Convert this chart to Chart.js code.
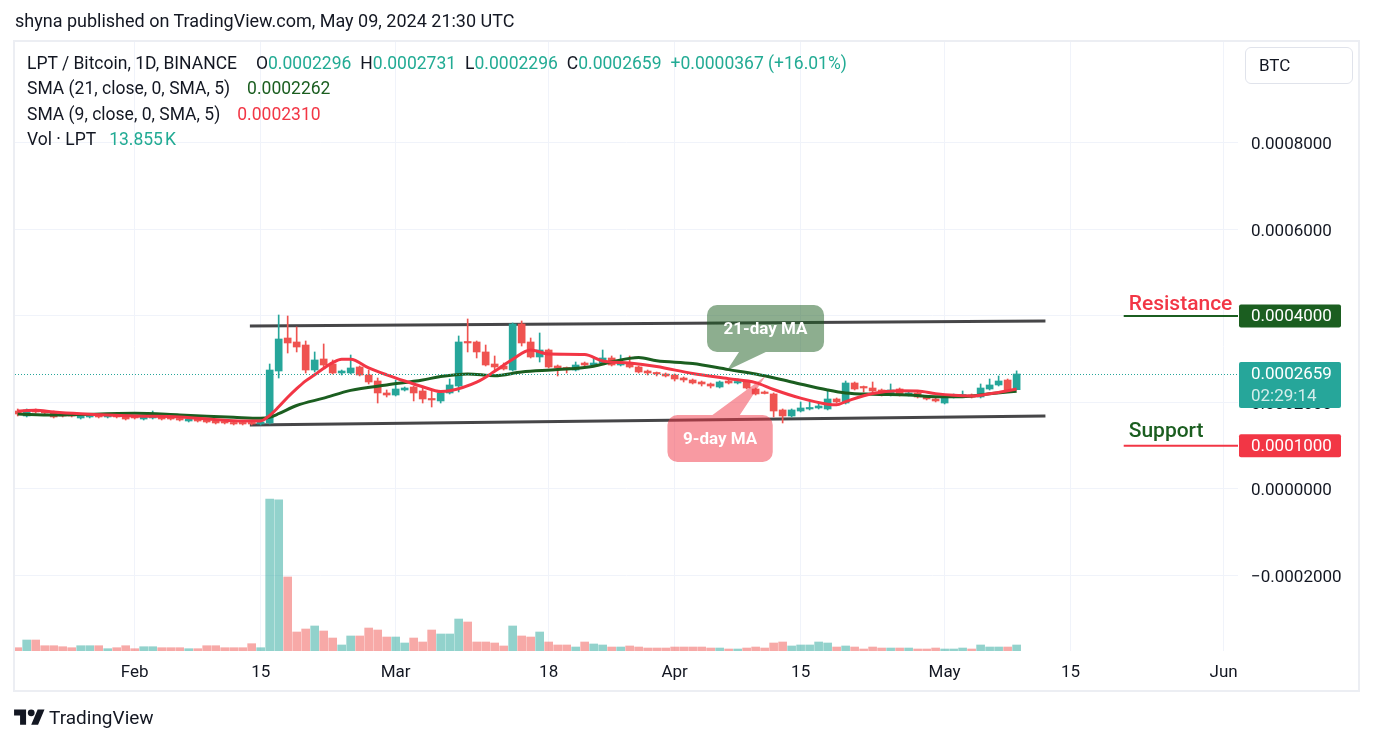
<!DOCTYPE html>
<html>
<head>
<meta charset="utf-8">
<script src="https://cdn.jsdelivr.net/npm/chart.js@4.4.1/dist/chart.umd.min.js"></script>
<style>
  body { margin: 0; background: #fff; font-family: Roboto, sans-serif; color: #131722; }
  #wrap { position: relative; width: 1374px; height: 744px; overflow: hidden; }
  #frame { position: absolute; left: 13px; top: 40px; width: 1343px; height: 648px; border: 2px solid #eceef3; }
  canvas { position: absolute; left: 0; top: 0; }
  .t { position: absolute; white-space: nowrap; line-height: 1; }
  .row span + span { margin-left: 9px; }
  .row span.first { margin-right: 10px; }
  .up { color: #22ab94; }
  .ma21 { color: #1b5e20; }
  .ma9 { color: #f23645; }
  .val { font-style: normal; }
  #btc { position: absolute; left: 1245px; top: 47px; width: 108px; height: 37px; box-sizing: border-box;
         border: 1px solid #e0e3eb; border-radius: 6px; font-size: 17px; line-height: 35px; padding-left: 13px; }
</style>
</head>
<body>
<div id="wrap">
  <div id="frame"></div>
  <canvas id="c" width="1374" height="744"></canvas>
  <div class="t" style="left:15px;top:12px;font-size:18px;">shyna published on TradingView.com, May 09, 2024 21:30 UTC</div>
  <div class="t row" style="left:27px;top:55px;font-size:17.5px;">
    <span class="first">LPT / Bitcoin, 1D, BINANCE</span><span>O<i class="up val">0.0002296</i></span><span>H<i class="up val">0.0002731</i></span><span>L<i class="up val">0.0002296</i></span><span>C<i class="up val">0.0002659</i></span><span class="up">+0.0000367 (+16.01%)</span>
  </div>
  <div class="t row" style="left:27px;top:80px;font-size:17.5px;"><span class="first" style="margin-right:8px">SMA (21, close, 0, SMA, 5)</span><span class="ma21">0.0002262</span></div>
  <div class="t row" style="left:27px;top:106px;font-size:17.5px;"><span class="first" style="margin-right:8px">SMA (9, close, 0, SMA, 5)</span><span class="ma9">0.0002310</span></div>
  <div class="t row" style="left:27px;top:131px;font-size:17.5px;"><span class="first" style="margin-right:4px">Vol · LPT</span><span class="up">13.855&#8239;K</span></div>
  <div id="btc">BTC</div>
  <svg style="position:absolute;left:14px;top:706px" width="31" height="24" viewBox="0 0 36 28">
    <path fill="#131722" d="M14 22H7V11H0V4h14v18zM28 22h-8l7.5-18h8L28 22z"/>
    <circle fill="#131722" cx="20" cy="8" r="4"/>
  </svg>
  <div class="t" style="left:49px;top:708px;font-size:19px;">TradingView</div>
</div>
<script>
// x = candle index, 0 = Jan 19 2024 ... 111 = May 9 2024
const tickDays = [13, 27, 42, 59, 73, 87, 103, 117, 134];
const tickLabels = ['Feb', '15', 'Mar', '18', 'Apr', '15', 'May', '15', 'Jun'];
const priceTicks = [-0.0002, 0, 0.0002, 0.0004, 0.0006, 0.0008];

const opens = [
  0.0001803, 0.0001688, 0.0001827, 0.0001780, 0.0001780, 0.0001711, 0.0001711, 0.0001642, 0.0001665, 0.0001688,
  0.0001665, 0.0001688, 0.0001688, 0.0001665, 0.0001618, 0.0001642, 0.0001665, 0.0001642, 0.0001618, 0.0001572,
  0.0001618, 0.0001595, 0.0001572, 0.0001549, 0.0001526, 0.0001526, 0.0001526, 0.0001503, 0.0001526, 0.0002728,
  0.0003491, 0.0003399, 0.0003329, 0.0002751, 0.0003006, 0.0002890, 0.0002682, 0.0002682, 0.0002821, 0.0002636,
  0.0002497, 0.0002220, 0.0002173, 0.0002289, 0.0002358, 0.0002266, 0.0002081, 0.0002035, 0.0002220, 0.0002381,
  0.0003399, 0.0003399, 0.0003168, 0.0002890, 0.0002844, 0.0002751, 0.0003815, 0.0003399, 0.0003052, 0.0003214,
  0.0002844, 0.0002798, 0.0002751, 0.0002913, 0.0002867, 0.0002913, 0.0003029, 0.0002867, 0.0002913, 0.0002821,
  0.0002728, 0.0002682, 0.0002659, 0.0002636, 0.0002566, 0.0002520, 0.0002474, 0.0002428, 0.0002358, 0.0002497,
  0.0002451, 0.0002474, 0.0002312, 0.0002220, 0.0002197, 0.0001827, 0.0001688, 0.0001803, 0.0001850, 0.0001873,
  0.0001850, 0.0002081, 0.0001988, 0.0002451, 0.0002358, 0.0002335, 0.0002289, 0.0002173, 0.0002312, 0.0002173,
  0.0002220, 0.0002127, 0.0002081, 0.0001988, 0.0002127, 0.0002150, 0.0002173, 0.0002127, 0.0002312, 0.0002405,
  0.0002520, 0.0002296
];
const highs = [
  0.0001850, 0.0001850, 0.0001850, 0.0001803, 0.0001803, 0.0001734, 0.0001734, 0.0001711, 0.0001711, 0.0001711,
  0.0001711, 0.0001711, 0.0001711, 0.0001688, 0.0001688, 0.0001803, 0.0001688, 0.0001665, 0.0001642, 0.0001642,
  0.0001642, 0.0001618, 0.0001595, 0.0001572, 0.0001549, 0.0001549, 0.0001549, 0.0001572, 0.0002890, 0.0004023,
  0.0004000, 0.0003746, 0.0003422, 0.0003168, 0.0003353, 0.0002983, 0.0002751, 0.0003098, 0.0002844, 0.0002751,
  0.0002566, 0.0002289, 0.0002520, 0.0002358, 0.0002381, 0.0002335, 0.0002266, 0.0002243, 0.0002543, 0.0003538,
  0.0003931, 0.0003422, 0.0003329, 0.0003075, 0.0002913, 0.0003838, 0.0003884, 0.0003491, 0.0003607, 0.0003237,
  0.0002867, 0.0002821, 0.0002936, 0.0002936, 0.0003052, 0.0003214, 0.0003075, 0.0003098, 0.0003075, 0.0002844,
  0.0002751, 0.0002705, 0.0002682, 0.0002659, 0.0002590, 0.0002543, 0.0002497, 0.0002451, 0.0002497, 0.0002520,
  0.0002543, 0.0002497, 0.0002335, 0.0002266, 0.0002220, 0.0001850, 0.0001850, 0.0002012, 0.0002012, 0.0001988,
  0.0002266, 0.0002104, 0.0002497, 0.0002474, 0.0002381, 0.0002474, 0.0002312, 0.0002428, 0.0002335, 0.0002243,
  0.0002243, 0.0002150, 0.0002104, 0.0002150, 0.0002197, 0.0002266, 0.0002197, 0.0002428, 0.0002543, 0.0002613,
  0.0002543, 0.0002731
];
const lows = [
  0.0001688, 0.0001665, 0.0001757, 0.0001734, 0.0001642, 0.0001665, 0.0001665, 0.0001618, 0.0001642, 0.0001642,
  0.0001642, 0.0001642, 0.0001595, 0.0001618, 0.0001595, 0.0001618, 0.0001595, 0.0001595, 0.0001572, 0.0001549,
  0.0001549, 0.0001526, 0.0001503, 0.0001503, 0.0001480, 0.0001480, 0.0001480, 0.0001480, 0.0001503, 0.0002566,
  0.0003144, 0.0003168, 0.0002682, 0.0002705, 0.0002821, 0.0002659, 0.0002636, 0.0002659, 0.0002613, 0.0002428,
  0.0001988, 0.0002127, 0.0002150, 0.0002266, 0.0002035, 0.0001988, 0.0001896, 0.0001988, 0.0002197, 0.0002243,
  0.0003168, 0.0003029, 0.0002844, 0.0002751, 0.0002751, 0.0002728, 0.0003306, 0.0003029, 0.0002936, 0.0002798,
  0.0002613, 0.0002682, 0.0002728, 0.0002821, 0.0002844, 0.0002890, 0.0002844, 0.0002844, 0.0002798, 0.0002682,
  0.0002636, 0.0002613, 0.0002590, 0.0002497, 0.0002474, 0.0002428, 0.0002381, 0.0002335, 0.0002335, 0.0002428,
  0.0002428, 0.0002312, 0.0002173, 0.0002197, 0.0001665, 0.0001526, 0.0001665, 0.0001780, 0.0001827, 0.0001850,
  0.0001827, 0.0001988, 0.0001965, 0.0002289, 0.0002243, 0.0002243, 0.0002150, 0.0002150, 0.0002150, 0.0002150,
  0.0002104, 0.0002058, 0.0002012, 0.0001965, 0.0002104, 0.0002127, 0.0002104, 0.0002104, 0.0002289, 0.0002381,
  0.0002243, 0.0002296
];
const closes = [
  0.0001734, 0.0001827, 0.0001780, 0.0001757, 0.0001665, 0.0001688, 0.0001688, 0.0001688, 0.0001688, 0.0001665,
  0.0001688, 0.0001665, 0.0001618, 0.0001642, 0.0001665, 0.0001665, 0.0001618, 0.0001618, 0.0001595, 0.0001618,
  0.0001572, 0.0001549, 0.0001526, 0.0001526, 0.0001503, 0.0001503, 0.0001503, 0.0001549, 0.0002751, 0.0003468,
  0.0003376, 0.0003283, 0.0002751, 0.0002983, 0.0002867, 0.0002682, 0.0002728, 0.0002798, 0.0002636, 0.0002474,
  0.0002220, 0.0002173, 0.0002312, 0.0002335, 0.0002220, 0.0002081, 0.0002058, 0.0002220, 0.0002405, 0.0003399,
  0.0003376, 0.0003168, 0.0002867, 0.0002821, 0.0002775, 0.0003815, 0.0003376, 0.0003052, 0.0003214, 0.0002821,
  0.0002798, 0.0002775, 0.0002867, 0.0002867, 0.0002913, 0.0003029, 0.0002867, 0.0002936, 0.0002821, 0.0002705,
  0.0002682, 0.0002659, 0.0002613, 0.0002543, 0.0002520, 0.0002451, 0.0002428, 0.0002381, 0.0002474, 0.0002451,
  0.0002474, 0.0002335, 0.0002197, 0.0002208, 0.0001803, 0.0001688, 0.0001827, 0.0001873, 0.0001873, 0.0001919,
  0.0002081, 0.0002012, 0.0002451, 0.0002312, 0.0002335, 0.0002266, 0.0002173, 0.0002289, 0.0002173, 0.0002220,
  0.0002127, 0.0002081, 0.0002035, 0.0002127, 0.0002173, 0.0002173, 0.0002127, 0.0002335, 0.0002405, 0.0002497,
  0.0002266, 0.0002659
];
// volume in thousands of LPT
const volumes = [
  7.6, 25.4, 25.4, 12.2, 12.2, 9.9, 7.6, 12.2, 12.2, 12.2,
  5.3, 7.6, 12.2, 5.3, 9.9, 9.9, 7.6, 7.6, 7.6, 5.3,
  5.3, 12.2, 12.2, 7.6, 7.6, 7.6, 16.9, 7.6, 351, 349,
  171, 43.9, 50.8, 57.8, 46.2, 30.0, 13.9, 34.7, 34.7, 53.1,
  48.5, 32.3, 32.3, 18.5, 30.0, 20.8, 48.5, 39.3, 39.3, 73.9,
  67.0, 20.8, 20.8, 18.5, 11.6, 57.8, 34.7, 32.3, 43.9, 20.8,
  13.9, 13.9, 9.2, 20.8, 16.2, 13.9, 9.2, 9.2, 11.6, 9.2,
  6.9, 6.9, 6.9, 9.2, 9.2, 9.2, 9.2, 6.9, 6.9, 4.6,
  4.6, 6.9, 9.2, 6.9, 18.5, 20.8, 11.6, 13.9, 13.9, 20.8,
  18.5, 9.2, 11.6, 9.2, 4.6, 9.2, 6.9, 6.9, 6.9, 6.9,
  4.6, 4.6, 6.9, 4.6, 4.6, 6.9, 4.6, 13.9, 9.2, 9.2,
  9.2, 13.855
];

// moving averages (candle index, value)
const sma9Days = [0, 2, 4, 7, 13, 18, 24, 27, 28, 29, 30, 31, 32, 33, 34, 35, 36, 37, 39, 41, 43, 45, 47, 48,
  51, 53, 55, 57, 59, 63, 65, 68, 71, 75, 79, 82, 84, 87, 90, 91, 92, 95, 98, 100, 102, 104, 106, 108, 111];
const sma9 = [0.0001803, 0.0001820, 0.0001780, 0.0001740, 0.0001688, 0.0001665, 0.0001579, 0.0001572, 0.0001700,
  0.0001900, 0.0002120, 0.0002320, 0.0002500, 0.0002640, 0.0002790, 0.0002920, 0.0003000, 0.0003000, 0.0002800,
  0.0002640, 0.0002497, 0.0002365, 0.0002255, 0.0002270, 0.0002470, 0.0002720, 0.0003000, 0.0003214, 0.0003120,
  0.0003110, 0.0002960, 0.0002913, 0.0002830, 0.0002670, 0.0002550, 0.0002460, 0.0002300, 0.0002100, 0.0001960,
  0.0001945, 0.0002020, 0.0002210, 0.0002270, 0.0002266, 0.0002205, 0.0002165, 0.0002150, 0.0002200, 0.0002310];
const sma21Days = [0, 4, 13, 18, 24, 27, 28, 29, 31, 34, 37, 41, 45, 47, 50, 53, 56, 60, 64, 66, 68, 69, 71, 75,
  79, 82, 86, 90, 92, 95, 99, 102, 105, 108, 111];
const sma21 = [0.0001734, 0.0001711, 0.0001749, 0.0001711, 0.0001657, 0.0001634, 0.0001660, 0.0001740, 0.0001930,
  0.0002100, 0.0002280, 0.0002405, 0.0002520, 0.0002600, 0.0002660, 0.0002620, 0.0002705, 0.0002760, 0.0002840,
  0.0002940, 0.0003020, 0.0003040, 0.0002965, 0.0002900, 0.0002760, 0.0002660, 0.0002475, 0.0002289, 0.0002220,
  0.0002190, 0.0002173, 0.0002135, 0.0002135, 0.0002200, 0.0002262];

// channel drawn on the chart
const channelDays = [25.8, 114.2];
const channelTop = [0.0003769, 0.0003884];
const channelBottom = [0.0001480, 0.0001688];

const resistanceLevel = 0.0004;
const supportLevel = 0.0001;
const lastPrice = 0.0002659;
const countdown = '02:29:14';

const UP = '#26a69a', DOWN = '#ef5350';
const isUp = closes.map((c, i) => c >= opens[i]);
const candleColors = isUp.map(u => (u ? UP : DOWN));
const volColors = isUp.map(u => (u ? 'rgba(38,166,154,0.5)' : 'rgba(239,83,80,0.5)'));
const fmt = v => (v < 0 ? '\u2212' : '') + Math.abs(v).toFixed(7);

Chart.defaults.font.family = 'Roboto, sans-serif';
Chart.defaults.color = '#131722';

function roundBox(ctx, l, t, w, h, r) {
  ctx.beginPath();
  ctx.roundRect(l, t, w, h, r);
}

const overlay = {
  id: 'overlay',
  afterDatasetsDraw(chart) {
    const { ctx, chartArea: a, scales: { x, y } } = chart;
    ctx.save();

    // last price line
    const py = Math.round(y.getPixelForValue(lastPrice)) + 0.5;
    ctx.strokeStyle = UP;
    ctx.lineWidth = 1;
    ctx.setLineDash([1, 2]);
    ctx.beginPath();
    ctx.moveTo(a.left, py);
    ctx.lineTo(a.right, py);
    ctx.stroke();
    ctx.setLineDash([]);

    // callouts
    const callouts = [
      { text: '21-day MA', fill: 'rgba(27,94,32,0.5)', box: [76.6, 89.6, 0.0004254, 0.0003168],
        base: [80.3, 83.6], tip: [78.8, 0.0002740] },
      { text: '9-day MA', fill: 'rgba(242,54,69,0.5)', box: [72.2, 83.9, 0.0001711, 0.0000624],
        base: [76.9, 80.1], tip: [83.1, 0.0002613] }
    ];
    callouts.forEach(c => {
      const l = x.getPixelForValue(c.box[0]), r = x.getPixelForValue(c.box[1]);
      const t = y.getPixelForValue(c.box[2]), b = y.getPixelForValue(c.box[3]);
      const tx = x.getPixelForValue(c.tip[0]), ty = y.getPixelForValue(c.tip[1]);
      const b1 = x.getPixelForValue(c.base[0]), b2 = x.getPixelForValue(c.base[1]);
      ctx.fillStyle = c.fill;
      ctx.beginPath();
      ctx.roundRect(l, t, r - l, b - t, 10);
      if (ty > b) {
        ctx.moveTo(b1, b - 2); ctx.lineTo(b2, b - 2); ctx.lineTo(tx, ty);
      } else {
        ctx.moveTo(tx, ty); ctx.lineTo(b2, t + 2); ctx.lineTo(b1, t + 2);
      }
      ctx.closePath();
      ctx.fill();
      ctx.fillStyle = '#fff';
      ctx.font = 'bold 17px Roboto';
      ctx.textAlign = 'center';
      ctx.textBaseline = 'middle';
      ctx.fillText(c.text, (l + r) / 2, (t + b) / 2 + 1);
    });

    // resistance / support marks
    const marks = [
      { level: resistanceLevel, line: '#1b5e20', text: 'Resistance', textColor: '#f23645', lift: 6 },
      { level: supportLevel, line: '#f23645', text: 'Support', textColor: '#1b5e20', lift: 9 }
    ];
    const mx = x.getPixelForValue(122.9);
    marks.forEach(m => {
      const ly = y.getPixelForValue(m.level);
      ctx.strokeStyle = m.line;
      ctx.lineWidth = 2;
      ctx.beginPath();
      ctx.moveTo(mx, ly);
      ctx.lineTo(a.right, ly);
      ctx.stroke();
      ctx.fillStyle = m.textColor;
      ctx.font = '500 21px Roboto';
      ctx.textAlign = 'left';
      ctx.textBaseline = 'alphabetic';
      ctx.fillText(m.text, mx + 5, ly - m.lift);
    });
    ctx.restore();
  },
  afterDraw(chart) {
    const { ctx, chartArea: a, scales: { y } } = chart;
    ctx.save();
    ctx.font = '17px Roboto';
    ctx.textBaseline = 'middle';
    ctx.textAlign = 'left';
    const label = (v, bg) => {
      const cy = y.getPixelForValue(v);
      ctx.fillStyle = bg;
      roundBox(ctx, a.right + 1, cy - 11.5, 102, 23, 2);
      ctx.fill();
      ctx.fillStyle = '#fff';
      ctx.fillText(fmt(v), a.right + 13, cy + 1);
    };
    label(resistanceLevel, '#1b5e20');
    label(supportLevel, '#f23645');
    // last price with countdown
    const cy = y.getPixelForValue(lastPrice);
    ctx.fillStyle = UP;
    roundBox(ctx, a.right + 1, cy - 12, 102, 46, 2);
    ctx.fill();
    ctx.fillStyle = '#fff';
    ctx.fillText(fmt(lastPrice), a.right + 13, cy + 1);
    ctx.fillStyle = 'rgba(255,255,255,0.8)';
    ctx.fillText(countdown, a.right + 13, cy + 23);
    ctx.restore();
  }
};

const idx = opens.map((_, i) => i);
const thin = { grouped: false, categoryPercentage: 1, barPercentage: 1 };

new Chart(document.getElementById('c'), {
  type: 'bar',
  data: {
    datasets: [
      { ...thin, label: 'Vol', yAxisID: 'yv', order: 6, barThickness: 8,
        data: idx.map(i => ({ x: i, y: volumes[i] })), backgroundColor: volColors },
      { type: 'line', label: 'channel top', order: 5, data: channelDays.map((d, i) => ({ x: d, y: channelTop[i] })),
        borderColor: 'rgba(50,50,52,0.9)', borderWidth: 3, pointRadius: 0 },
      { type: 'line', label: 'channel bottom', order: 5, data: channelDays.map((d, i) => ({ x: d, y: channelBottom[i] })),
        borderColor: 'rgba(50,50,52,0.9)', borderWidth: 3, pointRadius: 0 },
      { ...thin, label: 'wick', order: 4, barThickness: 1,
        data: idx.map(i => ({ x: i, y: [lows[i], highs[i]] })), backgroundColor: candleColors },
      { ...thin, label: 'body', order: 3, barThickness: 7, minBarLength: 1.5,
        data: idx.map(i => ({ x: i, y: [opens[i], closes[i]] })), backgroundColor: candleColors },
      { type: 'line', label: 'SMA 21', order: 2, data: sma21Days.map((d, i) => ({ x: d, y: sma21[i] })),
        borderColor: '#1b5e20', borderWidth: 3, pointRadius: 0, cubicInterpolationMode: 'monotone' },
      { type: 'line', label: 'SMA 9', order: 1, data: sma9Days.map((d, i) => ({ x: d, y: sma9[i] })),
        borderColor: '#f23645', borderWidth: 3, pointRadius: 0, cubicInterpolationMode: 'monotone' }
    ]
  },
  options: {
    responsive: false,
    animation: false,
    devicePixelRatio: 1,
    layout: { padding: { left: 15, top: 42, right: 16, bottom: 54 } },
    plugins: { legend: { display: false }, tooltip: { enabled: false } },
    scales: {
      x: {
        type: 'linear', min: -0.3, max: 135.6, offset: false,
        grid: { color: '#f0f3fa', drawTicks: false, offset: false },
        border: { display: false },
        ticks: { padding: 12, font: { size: 17 }, maxRotation: 0, autoSkip: false,
                 callback: (v, i) => tickLabels[i] },
        afterBuildTicks: s => { s.ticks = tickDays.map(v => ({ value: v })); },
        afterFit: s => { s.height = 39; }
      },
      y: {
        position: 'right', min: -0.0003746, max: 0.0010335,
        grid: { color: '#f0f3fa', drawTicks: false },
        border: { display: false },
        ticks: { padding: 13, labelOffset: 2, font: { size: 17 }, callback: v => fmt(v) },
        afterBuildTicks: s => { s.ticks = priceTicks.map(v => ({ value: v })); },
        afterFit: s => { s.width = 120; }
      },
      yv: { display: false, min: 0, max: 1407 }
    }
  },
  plugins: [overlay]
});
</script>
</body>
</html>
